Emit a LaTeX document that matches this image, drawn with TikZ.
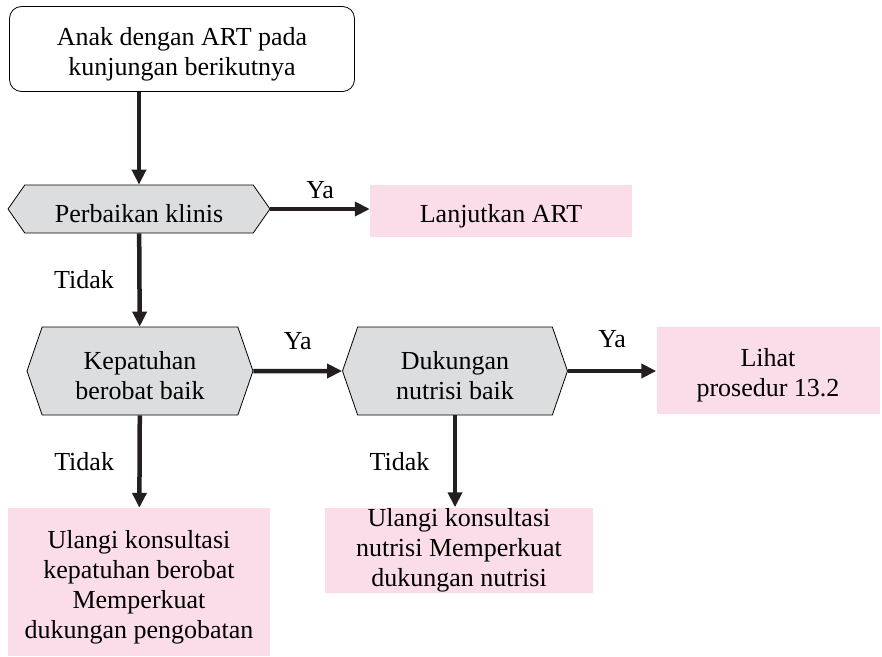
\documentclass[tikz,border=0pt]{standalone}
\usepackage{fontspec}
\setmainfont{Liberation Serif}
\usepackage{tikz}
\usetikzlibrary{positioning, arrows.meta, shapes.symbols}
\definecolor{hex_grey}{RGB}{220, 221, 222}
\definecolor{act_pink}{RGB}{250, 221, 232}
\definecolor{line_dark}{RGB}{35, 31, 32}
\newcommand{\lowtop}{\rule{0pt}{28pt}}

\begin{document}
\begin{tikzpicture}[x=1pt, y=-1pt, font=\fontsize{26}{30}\selectfont, >={Triangle[length=15pt, width=14pt]},
      start/.style={draw, line width=0.8pt, rounded corners=12pt, align=center, minimum width=345pt, minimum height=85pt},
      check/.style={draw, line width=0.8pt, fill=hex_grey, signal, signal to=west and east, align=center, inner sep=0pt},
      act/.style={fill=act_pink, align=center, inner sep=0pt},
      flow/.style={->, line width=4.5pt, draw=line_dark},
      lbl/.style={font=\fontsize{26}{30}\selectfont}]
    \useasboundingbox (0,0) rectangle (882,656);
    \node[start] (visit) at (182,49)  {\lowtop Anak dengan ART pada\\kunjungan berikutnya};
    \node[check, minimum width=262pt, minimum height=48pt, signal pointer angle=110] (clin) at (139,209) {\lowtop Perbaikan klinis};
    \node[act, minimum width=262pt, minimum height=52pt] (cont) at (501,211) {\lowtop Lanjutkan ART};
    \node[check, minimum width=226pt, minimum height=88pt, signal pointer angle=142] (adh)  at (140,371) {\lowtop Kepatuhan\\berobat baik};
    \node[check, minimum width=225pt, minimum height=88pt, signal pointer angle=142] (nutr) at (455,371) {\lowtop Dukungan\\nutrisi baik};
    \node[act, minimum width=223pt, minimum height=87pt]  (proc) at (768,370) {\lowtop Lihat\\prosedur 13.2};
    \node[act, minimum width=262pt, minimum height=148pt] (adhc) at (139,582) {\lowtop Ulangi konsultasi\\kepatuhan berobat\\Memperkuat\\dukungan pengobatan};
    \node[act, minimum width=268pt, minimum height=85pt]  (nutc) at (459,550) {Ulangi konsultasi\\nutrisi Memperkuat\\dukungan nutrisi};
    \draw[flow] (visit.south -| clin.north) -- (clin.north);
    \draw[flow] (clin.east) -- node[lbl, above=5pt]{Ya} (clin.east -| cont.west);
    \draw[flow] (clin) -- node[lbl, left=20pt]{Tidak} (adh);
    \draw[flow] (adh) -- node[lbl, above=16pt]{Ya} (nutr);
    \draw[flow] (nutr.east) -- node[lbl, above=18pt]{Ya} (nutr.east -| proc.west);
    \draw[flow] (adh) -- node[lbl, left=20pt]{Tidak} (adhc);
    \draw[flow] (nutr.south) -- node[lbl, left=20pt]{Tidak} (nutr.south |- nutc.north);
  \end{tikzpicture}
\end{document}
